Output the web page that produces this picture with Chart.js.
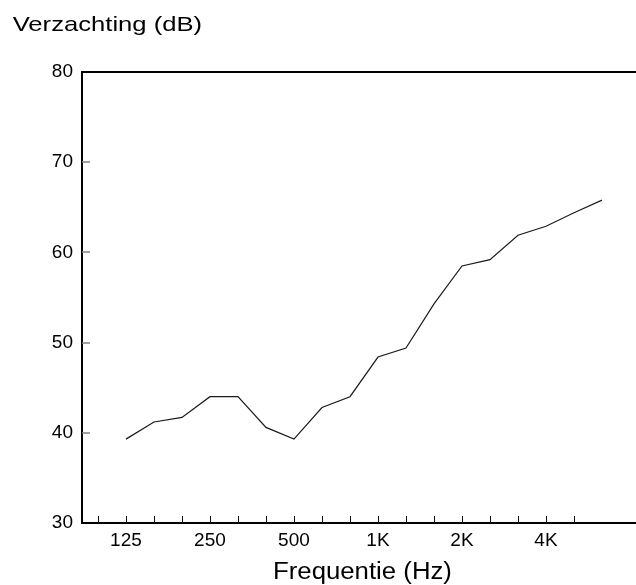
<!DOCTYPE html>
<html>
<head>
<meta charset="utf-8">
<script src="https://cdn.jsdelivr.net/npm/chart.js@4"></script>
<style>
html,body{margin:0;padding:0;overflow:hidden;background:#fff}
#wrap{width:636px;height:585px;overflow:hidden;position:relative}
canvas{display:block}
</style>
</head>
<body>
<div id="wrap"><canvas id="c" width="660" height="585"></canvas></div>
<script>
// third-octave bands along the axis (one tick per band)
const bands = ['100','125','160','200','250','315','400','500','630','800','1000','1250','1600','2000','2500','3150','4000','5000','6300'];
// bands with a tick mark
const tickBands = ['100','125','160','200','250','315','400','500','630','800','1000','1250','1600','2000','2500','3150','4000','5000'];
// measured bands and attenuation (dB)
const measuredBands = ['125','160','200','250','315','400','500','630','800','1000','1250','1600','2000','2500','3150','4000','5000','6300'];
const attenuation = [39.3, 41.2, 41.7, 44.0, 44.0, 40.6, 39.3, 42.8, 44.0, 48.4, 49.4, 54.3, 58.5, 59.2, 61.9, 62.9, 64.4, 65.8];
// labelled ticks
const labeledBands = ['125','250','500','1000','2000','4000'];
const labeledText = ['125','250','500','1K','2K','4K'];
const yTicks = [30, 40, 50, 60, 70, 80];
const yTitle = 'Verzachting (dB)';
const xTitle = 'Frequentie (Hz)';

const FONT = '"Liberation Sans", Arial, sans-serif';

const framePlugin = {
  id: 'frame',
  afterDraw(chart) {
    const {ctx, chartArea: a, scales: {x, y}} = chart;
    ctx.save();
    // top border
    ctx.strokeStyle = '#000';
    ctx.lineWidth = 2;
    ctx.beginPath();
    ctx.moveTo(a.left - 1, a.top);
    ctx.lineTo(a.right, a.top);
    ctx.stroke();
    // x tick marks, pointing inward
    ctx.lineWidth = 1;
    ctx.strokeStyle = '#111';
    x.ticks.forEach(t => {
      const p = Math.round(x.getPixelForValue(t.value)) + 0.5;
      ctx.beginPath();
      ctx.moveTo(p, a.bottom);
      ctx.lineTo(p, a.bottom - 7);
      ctx.stroke();
    });
    // y tick marks, pointing inward
    ctx.strokeStyle = '#808080';
    ctx.lineWidth = 1.5;
    y.ticks.forEach(t => {
      if (t.value === y.min || t.value === y.max) return;
      const p = Math.round(y.getPixelForValue(t.value));
      ctx.beginPath();
      ctx.moveTo(a.left, p);
      ctx.lineTo(a.left + 8, p);
      ctx.stroke();
    });
    // titles
    ctx.fillStyle = '#000';
    ctx.textAlign = 'left';
    ctx.textBaseline = 'alphabetic';
    ctx.save();
    ctx.font = '21px ' + FONT;
    ctx.translate(12.7, 30.7);
    ctx.scale(1.22, 1);
    ctx.fillText(yTitle, 0, 0);
    ctx.restore();
    ctx.save();
    ctx.font = '23px ' + FONT;
    ctx.translate(273, 578.7);
    ctx.scale(1.12, 1);
    ctx.fillText(xTitle, 0, 0);
    ctx.restore();
    ctx.restore();
  }
};

new Chart(document.getElementById('c'), {
  type: 'line',
  data: {
    datasets: [{
      data: measuredBands.map((b, i) => ({x: bands.indexOf(b), y: attenuation[i]})),
      borderColor: '#1a1a1a',
      borderWidth: 1.2,
      pointRadius: 0,
      tension: 0,
      fill: false
    }]
  },
  options: {
    responsive: false,
    animation: false,
    devicePixelRatio: 1,
    layout: {padding: {top: 72, right: 16, bottom: 0, left: 0}},
    plugins: {legend: {display: false}, tooltip: {enabled: false}, title: {display: false}},
    scales: {
      x: {
        type: 'linear',
        min: -0.57,
        max: 19.5,
        afterBuildTicks: s => { s.ticks = tickBands.map(b => ({value: bands.indexOf(b)})); },
        ticks: {
          autoSkip: false,
          maxRotation: 0,
          padding: 8,
          color: '#000',
          font: {family: FONT, size: 19, lineHeight: 1},
          callback: v => {
            const k = labeledBands.indexOf(bands[v]);
            return k >= 0 ? labeledText[k] : '';
          }
        },
        grid: {display: false, drawTicks: false},
        border: {display: true, color: '#000', width: 2},
        afterFit: s => { s.height = 62; }
      },
      y: {
        type: 'linear',
        min: 30,
        max: 80,
        afterBuildTicks: s => { s.ticks = yTicks.map(v => ({value: v})); },
        ticks: {
          padding: 9,
          color: '#000',
          font: {family: FONT, size: 19, lineHeight: 1}
        },
        grid: {display: false, drawTicks: false},
        border: {display: true, color: '#000', width: 2},
        afterFit: s => { s.width = 82; }
      }
    }
  },
  plugins: [framePlugin]
});
</script>
</body>
</html>
